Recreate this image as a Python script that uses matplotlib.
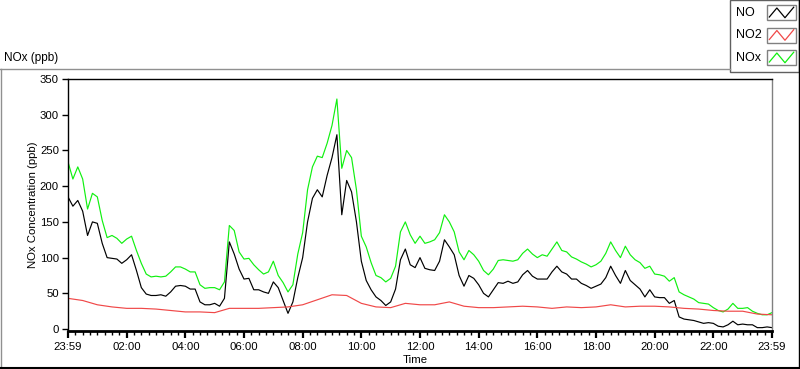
import numpy as np
import matplotlib
matplotlib.use("Agg")
import matplotlib.pyplot as plt
from matplotlib.lines import Line2D
from matplotlib.patches import Rectangle

plt.rcParams['font.family'] = ['Liberation Sans', 'DejaVu Sans']

# ---------------- data ----------------
# NO and NOx sampled every 10 minutes from 23:59 (hour 0) to 23:59 (hour 24)
NO = [185, 172, 180, 165, 131, 150, 148, 120, 100, 99, 98, 92, 97, 104, 82, 58, 49, 47, 47, 48, 46, 52, 60, 61,
      60, 56, 56, 38, 34, 34, 36, 32, 43, 122, 105, 84, 70, 71, 55, 55, 52, 50, 66, 58, 40, 22, 38, 72,
      100, 150, 183, 195, 185, 215, 240, 272, 160, 208, 192, 150, 95, 68, 55, 45, 40, 33, 38, 56, 97, 112, 90, 86,
      100, 85, 83, 82, 95, 125, 115, 104, 75, 60, 75, 71, 62, 50, 45, 55, 65, 64, 67, 64, 66, 76, 82, 74,
      70, 70, 70, 80, 88, 80, 77, 70, 70, 64, 61, 57, 60, 63, 72, 88, 75, 64, 82, 68, 62, 56, 45, 55,
      45, 44, 44, 36, 40, 17, 14, 13, 12, 10, 8, 9, 8, 4, 3, 6, 11, 6, 7, 6, 6, 2, 2, 3, 2]
NOX = [234, 210, 227, 210, 168, 190, 185, 152, 128, 131, 127, 120, 126, 130, 110, 92, 77, 73, 74, 73, 74, 80, 87, 87,
       84, 80, 80, 62, 57, 58, 58, 55, 66, 145, 138, 108, 98, 99, 90, 83, 77, 80, 95, 75, 65, 52, 62, 105,
       135, 195, 227, 242, 240, 260, 285, 322, 225, 250, 240, 195, 130, 115, 93, 75, 72, 66, 71, 88, 136, 150, 132, 120,
       130, 120, 122, 125, 135, 160, 150, 136, 108, 97, 110, 104, 95, 82, 76, 84, 96, 97, 96, 95, 97, 106, 112, 105,
       100, 104, 102, 112, 122, 110, 108, 101, 98, 94, 91, 87, 90, 95, 106, 122, 110, 100, 116, 104, 97, 93, 85, 88,
       77, 76, 74, 67, 72, 52, 48, 45, 42, 37, 36, 35, 30, 26, 24, 28, 36, 29, 29, 30, 25, 22, 20, 20, 23]
# NO2 sampled every 30 minutes
NO2 = [43, 40, 34, 31, 29, 29, 28, 26, 24, 24, 23, 29, 29, 29, 30, 31,
       34, 41, 48, 47, 36, 31, 30, 36, 34, 34, 38, 32, 30, 30, 31, 32,
       31, 29, 31, 30, 31, 34, 31, 32, 32, 31, 29, 28, 26, 25, 25, 21, 20]

x_tick_labels = ["23:59", "02:00", "04:00", "06:00", "08:00", "10:00", "12:00",
                 "14:00", "16:00", "18:00", "20:00", "22:00", "23:59"]
y_ticks = [0, 50, 100, 150, 200, 250, 300, 350]
series_names = ["NO", "NO2", "NOx"]

t10 = np.arange(len(NO)) / 6.0
t30 = np.arange(len(NO2)) / 2.0

C_NO = "black"
C_NO2 = "#f04848"
C_NOX = "#10f010"

# ---------------- figure ----------------
W, H = 800, 369
fig = plt.figure(figsize=(W / 100, H / 100), dpi=100)
fig.patch.set_facecolor("white")


def fx(x):
    return x / W


def fy(y):
    return 1 - y / H


ax = fig.add_axes([fx(68), fy(330.5), fx(772) - fx(68), fy(79) - fy(330.5)])
ax.plot(t10, NOX, color=C_NOX, lw=0.85)
ax.plot(t10, NO, color=C_NO, lw=0.85)
ax.plot(t30, NO2, color=C_NO2, lw=0.85)

ax.set_xlim(0, 24)
ax.set_ylim(-2, 350)
ax.set_xticks(np.arange(0, 25, 2))
ax.set_xticklabels(x_tick_labels)
ax.set_xticks(np.arange(0, 24.001, 0.25), minor=True)
ax.set_yticks(y_ticks)
ax.set_yticklabels([str(v) for v in y_ticks])
ax.tick_params(axis='x', which='major', length=5, width=1.6, pad=3, labelsize=8.2, colors='black')
ax.tick_params(axis='x', which='minor', length=3, width=1, colors='black')
ax.tick_params(axis='y', which='major', length=4.5, width=1, pad=2, labelsize=8.2, colors='black')

for s in ['left', 'top']:
    ax.spines[s].set_color('black')
    ax.spines[s].set_linewidth(1)
ax.spines['right'].set_color('#808080')
ax.spines['right'].set_linewidth(1)
ax.spines['bottom'].set_color('black')
ax.spines['bottom'].set_linewidth(2)

# labels
fig.text(fx(33), fy(205), "NOx Concentration (ppb)", rotation=90, ha='center', va='center', fontsize=8.2)
fig.text(fx(415.5), fy(360), "Time", ha='center', va='center', fontsize=8.2)
fig.text(fx(4), fy(58), "NOx (ppb)", ha='left', va='center', fontsize=8.5)

# outer frame lines
fig.add_artist(Line2D([fx(0), fx(730)], [fy(69), fy(69)], color='#909090', lw=1))
fig.add_artist(Line2D([fx(1), fx(1)], [fy(69), fy(367)], color='#909090', lw=1))
fig.add_artist(Line2D([fx(0), fx(800)], [fy(367.5), fy(367.5)], color='black', lw=1.5))
fig.add_artist(Line2D([fx(799), fx(799)], [fy(0), fy(367.5)], color='black', lw=1))

# legend box
fig.add_artist(Rectangle((fx(730), fy(71.5)), fx(799) - fx(730), fy(0) - fy(71.5),
                         facecolor='white', edgecolor='#606060', lw=1))
colors = [C_NO, C_NO2, C_NOX]
for k, (name, c) in enumerate(zip(series_names, colors)):
    yc = 12.5 + k * 22.5
    fig.text(fx(736), fy(yc + 0.5), name, ha='left', va='center', fontsize=9)
    x0, x1 = 767, 796
    y0, y1 = yc - 7.5, yc + 7.5
    fig.add_artist(Rectangle((fx(x0), fy(y1)), fx(x1) - fx(x0), fy(y0) - fy(y1),
                             facecolor='white', edgecolor='#808080', lw=1))
    zx = [x0 + 0.08 * (x1 - x0), x0 + 0.34 * (x1 - x0), x0 + 0.62 * (x1 - x0), x0 + 0.92 * (x1 - x0)]
    zy = [y1 - 0.2 * (y1 - y0), y0 + 0.2 * (y1 - y0), y1 - 0.15 * (y1 - y0), y0 + 0.15 * (y1 - y0)]
    fig.add_artist(Line2D([fx(v) for v in zx], [fy(v) for v in zy], color=c, lw=0.9))

fig.savefig("out.png", dpi=100, facecolor='white')
